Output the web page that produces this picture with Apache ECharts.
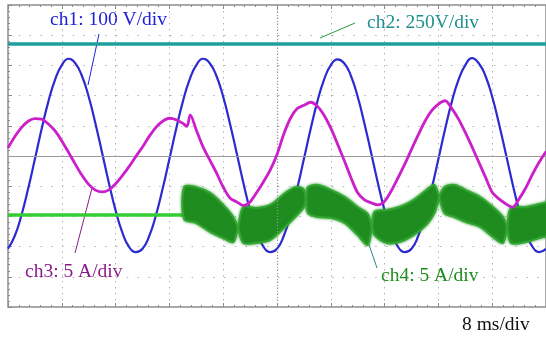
<!DOCTYPE html>
<html><head><meta charset="utf-8">
<script src="https://cdn.jsdelivr.net/npm/echarts@6/dist/echarts.min.js"></script>
<style>html,body{margin:0;padding:0;background:#fff}#c{width:546px;height:338px}</style>
</head><body><div id="c"></div>
<script>
// time axis in ms (8 ms/div), vertical axis in screen divisions
const ch1T = [0,1,2,3,4,5,6,7,8,9,10,11,12,13,14,15,16,17,18,19,20,21,22,23,24,25,26,27,28,29,30,31,32,33,34,35,36,37,38,39,40,41,42,43,44,45,46,47,48,49,50,51,52,53,54,55,56,57,58,59,60,61,62,63,64,65,66,67,68,69,70,71,72,73,74,75,76,77,78,79,80];
const ch1V = [-3.07,-2.65,-1.96,-1.08,-0.10,0.89,1.80,2.53,3.01,3.22,3.07,2.65,1.96,1.08,0.10,-0.89,-1.80,-2.53,-3.01,-3.18,
  -3.07,-2.65,-1.96,-1.08,-0.10,0.89,1.80,2.53,3.01,3.22,3.07,2.65,1.96,1.08,0.10,-0.89,-1.80,-2.53,-3.01,-3.18,
  -3.07,-2.65,-1.96,-1.08,-0.10,0.89,1.80,2.53,3.01,3.20,3.07,2.65,1.96,1.08,0.10,-0.89,-1.80,-2.53,-3.01,-3.18,
  -3.07,-2.65,-1.96,-1.08,-0.10,0.89,1.80,2.53,3.01,3.24,3.07,2.65,1.96,1.08,0.10,-0.89,-1.80,-2.53,-3.01,-3.18,-3.07];

const ch2T = [0, 80];
const ch2V = [3.71, 3.71];

const ch3T = [0,1,2,3,4,5,6,7,8,9,10,11,12,13,14,15,16,17,18,19,20,21,22,23,24,25,26,26.6,27.1,28,29,30,31,32,33,34,35,36,37,38,39,40,41,42,43,44,45,46,47,48,49,50,51,52,53,54,55,56,57,58,59,60,61,62,63,64,65,66,67,68,69,70,71,72,73,74,75,76,77,78,79,80];
const ch3V = [0.27,0.64,0.94,1.15,1.24,1.22,1.06,0.83,0.50,0.12,-0.27,-0.64,-0.94,-1.13,-1.19,-1.12,-0.92,-0.65,-0.35,-0.02,
  0.30,0.65,0.95,1.15,1.25,1.20,1.08,0.98,1.36,0.86,0.30,-0.13,-0.56,-1.03,-1.39,-1.52,-1.64,-1.52,-1.20,-0.85,-0.46,
  0.05,0.72,1.25,1.57,1.68,1.78,1.65,1.35,0.92,0.40,-0.15,-0.72,-1.22,-1.45,-1.55,-1.62,-1.50,-1.15,-0.72,-0.27,
  0.22,0.70,1.15,1.50,1.72,1.83,1.57,1.22,0.78,0.30,-0.20,-0.70,-1.20,-1.42,-1.58,-1.70,-1.42,-1.05,-0.60,-0.20,0.15];

const ch4LineT = [0, 26.2];
const ch4LineV = [-1.95, -1.95];

// ch4 noisy band: top / bottom envelope; top == bottom at pinch points
const ch4T   = [26.2,28.0,30.1,32.0,33.5,34.2,35.0,36.9,39.0,41.2,42.7,43.9,44.3,44.6,46.1,48.1,50.1,52.0,53.5,54.1,54.5,56.3,58.2,60.3,62.2,63.4,64.1,64.9,66.4,68.1,70.2,72.1,73.6,74.2,74.8,77.0,79.6,80.5];
const ch4Top = [-1.03,-1.03,-1.23,-1.62,-2.02,-2.38,-1.69,-1.72,-1.62,-1.23,-1.03,-1.09,-1.46,-1.03,-0.96,-1.13,-1.36,-1.69,-1.92,-2.35,-1.85,-1.79,-1.69,-1.46,-1.13,-0.96,-1.36,-1.03,-0.96,-1.13,-1.36,-1.69,-2.02,-2.35,-1.72,-1.69,-1.56,-1.52];
const ch4Bot = [-2.09,-2.22,-2.52,-2.72,-2.85,-2.38,-2.88,-2.88,-2.78,-2.35,-2.02,-1.72,-1.46,-1.89,-2.02,-2.05,-2.22,-2.62,-2.95,-2.35,-2.62,-2.88,-2.85,-2.62,-2.28,-1.89,-1.36,-1.89,-2.02,-2.19,-2.35,-2.68,-2.88,-2.35,-2.88,-2.85,-2.68,-2.65];

const labels = ['ch1: 100 V/div', 'ch2: 250V/div', 'ch3: 5 A/div', 'ch4: 5 A/div', '8 ms/div'];

const zip = (a, b) => a.map((v, i) => [v, b[i]]);
const segs = [];
{ let s = 0;
  for (let k = 1; k < ch4T.length; k++) {
    if (ch4Top[k] === ch4Bot[k] || k === ch4T.length - 1) { segs.push([s, k]); s = k; }
  }
}

const chart = echarts.init(document.getElementById('c'), null, {renderer: 'canvas'});
const tickCol = '#8a8a8a';
const xBase = {
  type: 'value', min: 0, max: 80, interval: 8,
  axisLabel: {show: false},
  axisLine: {show: false, onZero: false},
  axisTick: {show: true, inside: true, length: 4, lineStyle: {color: tickCol}},
  minorTick: {show: true, splitNumber: 5, length: 2, lineStyle: {color: tickCol}},
};
const serif = '"Liberation Serif", "DejaVu Serif", serif';
const txt = (x, y, s, c) => ({type: 'text', left: x, top: y, style: {text: s, fill: c, font: '19.5px ' + serif}});
const ln = (x1, y1, x2, y2, c) => ({type: 'line', shape: {x1, y1, x2, y2}, style: {stroke: c, lineWidth: 1}});

chart.setOption({
  animation: false,
  backgroundColor: '#fff',
  grid: {left: 8, right: -2, top: 5, bottom: 31, show: true, borderColor: '#8c8c8c', borderWidth: 1.5},
  xAxis: [
    Object.assign({}, xBase, {position: 'bottom', splitLine: {show: true, lineStyle: {color: '#b3b3b3', width: 1, type: [1.5, 4.5]}}}),
    Object.assign({}, xBase, {position: 'top', splitLine: {show: false}})
  ],
  yAxis: {
    type: 'value', min: -5, max: 5, interval: 1,
    axisLabel: {show: false},
    axisLine: {show: false, onZero: false},
    axisTick: {show: true, inside: true, length: 4, lineStyle: {color: tickCol}},
    minorTick: {show: true, splitNumber: 5, length: 2, lineStyle: {color: tickCol}},
    splitLine: {show: true, lineStyle: {color: '#b3b3b3', width: 1, type: [1.5, 9.3]}}
  },
  series: [
    {
      type: 'line', name: 'ch2', data: zip(ch2T, ch2V), symbol: 'none', z: 2,
      lineStyle: {color: '#1f9e9e', width: 3.5},
      markLine: {silent: true, symbol: 'none', label: {show: false}, animation: false,
        data: [
          {yAxis: 0, lineStyle: {color: '#9a9a9a', type: 'solid', width: 1}},
          {xAxis: 40, lineStyle: {color: '#9a9a9a', type: [1, 2], width: 1.2}}
        ]}
    },
    {
      type: 'line', name: 'ch1', data: zip(ch1T, ch1V), symbol: 'none', smooth: true, z: 3,
      lineStyle: {color: '#2b2bcf', width: 2.2}
    },
    {
      type: 'line', name: 'ch4', data: zip(ch4LineT, ch4LineV), symbol: 'none', z: 3,
      lineStyle: {color: '#33cc33', width: 3.5}
    },
    {
      type: 'custom', name: 'ch4band', z: 4, clip: true,
      data: segs.map(r => [ch4T[r[0]], ch4Top[r[0]]]),
      renderItem: (params, api) => {
        const [s, e] = segs[params.dataIndex];
        const pts = [];
        for (let k = s; k <= e; k++) pts.push(api.coord([ch4T[k], ch4Top[k]]));
        for (let k = e; k >= s; k--) pts.push(api.coord([ch4T[k], ch4Bot[k]]));
        return {type: 'polygon', shape: {points: pts, smooth: 0.3},
          style: {fill: '#1f8c1f', stroke: '#32a832', lineWidth: 2,
                  shadowBlur: 3, shadowColor: 'rgba(40,150,40,0.8)'}};
      }
    },
    {
      type: 'line', name: 'ch3', data: zip(ch3T, ch3V), symbol: 'none', smooth: 0.3, z: 5,
      lineStyle: {color: '#cc1fcc', width: 2.8}
    }
  ],
  graphic: [
    txt(50, 10, labels[0], '#2020d8'),
    ln(99, 34, 88, 85, '#2020e0'),
    txt(367, 13, labels[1], '#1e8f8f'),
    ln(355, 23, 320, 38, '#2a9a3a'),
    txt(25, 262, labels[2], '#8a1a8a'),
    ln(75, 253, 92, 188, '#8a1a8a'),
    txt(381, 266, labels[3], '#1c8c1c'),
    ln(377, 268, 364, 230, '#2a8a8a'),
    txt(462, 315, labels[4], '#111111')
  ]
});
</script>
</body></html>
